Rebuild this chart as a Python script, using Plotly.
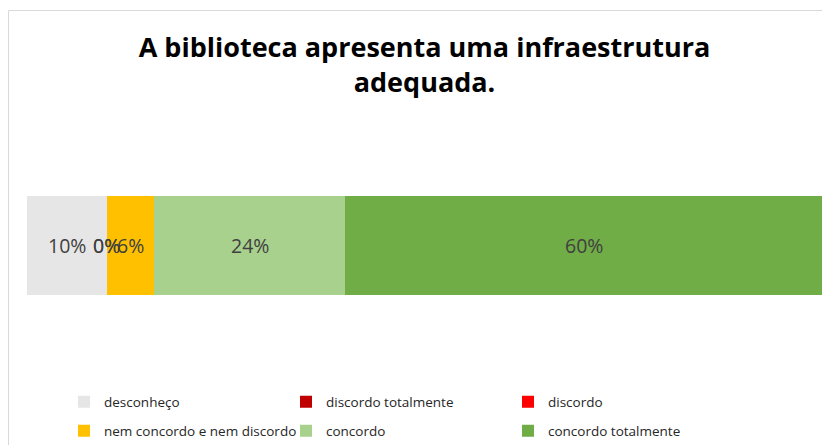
import plotly.graph_objects as go

categories = ["desconheço", "discordo totalmente", "discordo",
              "nem concordo e nem discordo", "concordo", "concordo totalmente"]
values = [10, 0, 0, 6, 24, 60]
colors = ["#E7E6E6", "#C00000", "#FF0000", "#FFC000", "#A9D18E", "#70AD47"]
row_label = ["A biblioteca"]

# the page body adds an 8px offset, so the figure is 8px smaller each way
W, H = 822, 437
ML, MR, MT, MB = 19, 8, 188, 150
PW = W - ML - MR
PH = H - MT - MB

fig = go.Figure()
for i, (name, v, c) in enumerate(zip(categories, values, colors)):
    fig.add_trace(go.Bar(
        y=row_label, x=[v], name=name, orientation="h",
        marker=dict(color=c, line=dict(width=0)),
        textposition="none",
        legend="legend" if i < 3 else "legend2",
        width=1,
    ))

# data labels at the middle of each stacked segment (data coordinates)
annotations = []
cum = 0
for v in values:
    annotations.append(dict(
        x=cum + v / 2, y=row_label[0], xref="x", yref="y",
        text=f"{v}%", showarrow=False, xanchor="center", yanchor="middle",
        font=dict(family="Open Sans", size=19.5, color="#404040"),
    ))
    cum += v

def px_x(px):
    return (px - ML) / PW

def px_y(py):
    return (H - MB - py) / PH

legend_common = dict(
    orientation="h", traceorder="normal",
    entrywidth=177, entrywidthmode="pixels",
    font=dict(family="Open Sans", size=13.5, color="#262626"),
    bgcolor="rgba(0,0,0,0)", xanchor="left", yanchor="middle",
    xref="container", yref="container",
    itemclick=False,
)

fig.update_layout(
    width=W, height=H,
    margin=dict(l=ML, r=MR, t=MT, b=MB, pad=0),
    paper_bgcolor="white", plot_bgcolor="white",
    barmode="stack", bargap=0,
    showlegend=True,
    title=dict(
        text="<b>A biblioteca apresenta uma infraestrutura<br>adequada.</b>",
        x=0.5, xref="paper", xanchor="center",
        y=1 - 49 / H, yref="container", yanchor="middle",
        font=dict(family="Open Sans", size=27, color="#000000"),
    ),
    xaxis=dict(range=[0, 100], visible=False, fixedrange=True),
    yaxis=dict(range=[-0.5, 0.5], visible=False, fixedrange=True),
    legend=dict(x=56 / W, y=1 - 394 / H, **legend_common),
    legend2=dict(x=56 / W, y=1 - 423 / H, **legend_common),
    annotations=annotations,
    shapes=[dict(type="rect", xref="paper", yref="paper",
                 x0=px_x(0.5), x1=px_x(840), y0=px_y(2.5), y1=px_y(460),
                 line=dict(color="#D9D9D9", width=1), layer="below")],
)

fig.write_html("out.html")
